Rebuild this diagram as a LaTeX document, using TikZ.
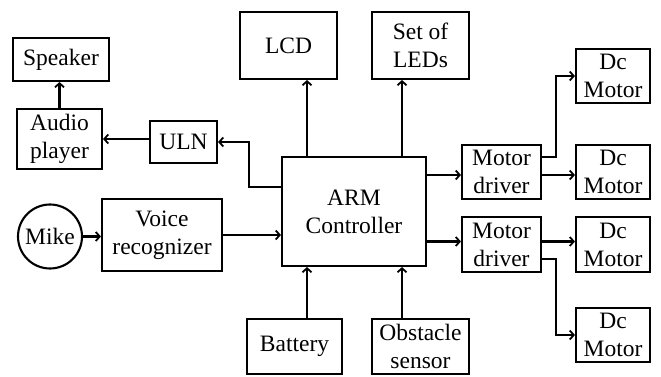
\documentclass[tikz,border=0pt]{standalone}
\usepackage{fontspec}
\setmainfont{Liberation Serif}
\newfontfamily\tnr{Liberation Serif}
\usetikzlibrary{arrows.meta}
\begin{document}
\begin{tikzpicture}[x=1pt,y=-1pt,
  blk/.style={draw,line width=2.1pt,inner sep=0pt,align=center,font=\tnr\fontsize{23.5}{28}\selectfont},
  arr/.style={line width=2.1pt,-{Straight Barb[length=4pt,width=9pt,line width=1.8pt]}}]
\useasboundingbox (0,0) rectangle (661,377);
\node[blk,minimum width=96pt,minimum height=43pt] (spk) at (61,59.5) {Speaker};
\node[blk,minimum width=85pt,minimum height=60pt] (aud) at (59.5,139) {Audio\\player};
\node[blk,minimum width=67pt,minimum height=42pt] (uln) at (183.5,142) {ULN};
\node[blk,circle,minimum size=64pt] (mike) at (50,236.5) {Mike};
\node[blk,minimum width=120pt,minimum height=72pt] (voice) at (162,235) {Voice\\recognizer};
\node[blk,minimum width=144pt,minimum height=109pt] (arm) at (354,211.5) {ARM\\Controller};
\node[blk,minimum width=97pt,minimum height=67pt] (lcd) at (288.5,45.5) {LCD};
\node[blk,minimum width=97pt,minimum height=67pt] (led) at (420.5,45.5) {Set of\\LEDs};
\node[blk,minimum width=95pt,minimum height=55pt] (bat) at (294.5,346.5) {Battery};
\node[blk,minimum width=97pt,minimum height=55pt] (obs) at (420.5,346.5) {Obstacle\\sensor};
\node[blk,minimum width=79pt,minimum height=54pt] (md1) at (501.5,172) {Motor\\driver};
\node[blk,minimum width=79pt,minimum height=55pt] (md2) at (501.5,244.5) {Motor\\driver};
\node[blk,minimum width=74pt,minimum height=54pt] (dc1) at (613,76) {Dc\\Motor};
\node[blk,minimum width=74pt,minimum height=54pt] (dc2) at (613,172) {Dc\\Motor};
\node[blk,minimum width=74pt,minimum height=55pt] (dc3) at (613,244.5) {Dc\\Motor};
\node[blk,minimum width=74pt,minimum height=54pt] (dc4) at (613,335) {Dc\\Motor};
% connectors
\draw[arr] (aud.north) -- (aud.north |- spk.south);
\draw[arr] (uln.west |- aud.east) -- (aud.east);
\draw[arr] ([yshift=24.5pt]arm.west) -- ++(-32,0) |- (uln.east);
\draw[arr] (mike.east) -- (voice.west |- mike.east);
\draw[arr] (voice.east) -- (voice.east -| arm.west);
\draw[arr] ([xshift=-47pt]arm.north) -- ([xshift=-47pt]arm.north |- lcd.south);
\draw[arr] ([xshift=48pt]arm.north) -- ([xshift=48pt]arm.north |- led.south);
\draw[arr] ([xshift=-47pt]arm.south |- bat.north) -- ([xshift=-47pt]arm.south);
\draw[arr] ([xshift=48pt]arm.south |- obs.north) -- ([xshift=48pt]arm.south);
\draw[arr] ([yshift=-3pt]arm.east |- md1.west) -- ([yshift=-3pt]md1.west);
\draw[arr] ([yshift=3pt]arm.east |- md2.west) -- ([yshift=3pt]md2.west);
\draw[arr] ([yshift=15pt]md1.east) -- ++(14,0) |- (dc1.west);
\draw[arr] ([yshift=-3pt]md1.east) -- ([yshift=-3pt]dc2.west);
\draw[arr] ([yshift=3pt]md2.east) -- ([yshift=3pt]dc3.west);
\draw[arr] ([yshift=-14.5pt]md2.east) -- ++(14,0) |- (dc4.west);
\end{tikzpicture}
\end{document}
